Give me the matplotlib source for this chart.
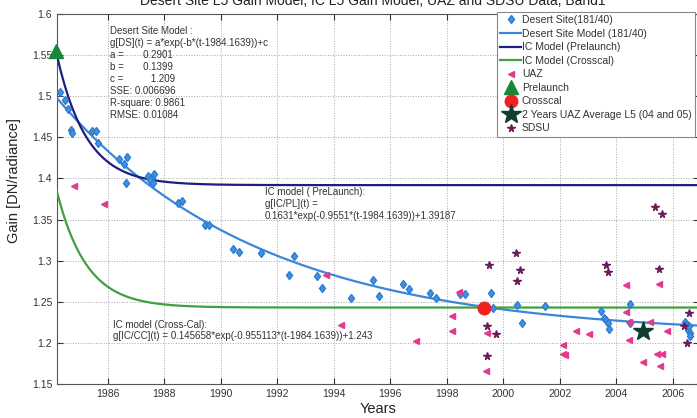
import numpy as np
import matplotlib
matplotlib.use('Agg')
import matplotlib.pyplot as plt

plt.rcParams['font.family'] = ['Liberation Sans', 'DejaVu Sans']

###############################################################################
# data:

t0 = 1984.1639

# model parameters printed on the chart: g(t) = a*exp(-b*(t-t0))+c
ds_model = [0.2901, 0.1399, 1.209]
pl_model = [0.1631, 0.9551, 1.39187]
cc_model = [0.145658, 0.955113, 1.243]

desert_t = [1984.31, 1984.48, 1984.58, 1984.70, 1984.72, 1985.45, 1985.57, 1985.64,
            1986.40, 1986.57, 1986.69, 1986.63, 1987.43, 1987.55, 1987.63, 1987.49,
            1987.61, 1988.49, 1988.61, 1989.44, 1989.59, 1990.44, 1990.65, 1991.42,
            1992.60, 1992.42, 1993.41, 1993.59, 1994.60, 1995.40, 1995.60, 1996.45,
            1996.65, 1997.42, 1997.62, 1998.46, 1998.64, 1999.57, 1999.65, 2000.50,
            2000.68, 2001.48, 2003.46, 2003.58, 2003.65, 2003.70, 2003.74, 2004.49,
            2004.50, 2006.45, 2006.50, 2006.55, 2006.60, 2006.62, 2006.58]
desert_g = [1.505, 1.495, 1.485, 1.459, 1.455, 1.458, 1.458, 1.443,
            1.424, 1.418, 1.426, 1.395, 1.403, 1.401, 1.406, 1.398,
            1.394, 1.370, 1.372, 1.343, 1.343, 1.314, 1.310, 1.309,
            1.306, 1.282, 1.281, 1.267, 1.255, 1.276, 1.257, 1.272,
            1.265, 1.261, 1.255, 1.260, 1.260, 1.261, 1.242, 1.246,
            1.224, 1.245, 1.239, 1.230, 1.228, 1.224, 1.217, 1.247,
            1.224, 1.226, 1.222, 1.216, 1.212, 1.208, 1.220]

uaz_t = [1984.81, 1985.86, 1993.72, 1994.25, 1996.90, 1998.17, 1998.20, 1998.44,
         1999.42, 1999.39, 2002.10, 2002.13, 2002.17, 2002.58, 2003.02, 2004.35,
         2004.35, 2004.46, 2004.46, 2004.94, 2005.19, 2005.50, 2005.46, 2005.62,
         2005.54, 2005.80]
uaz_g = [1.391, 1.369, 1.282, 1.222, 1.202, 1.233, 1.215, 1.262,
         1.212, 1.166, 1.198, 1.187, 1.185, 1.214, 1.211, 1.270,
         1.237, 1.225, 1.204, 1.177, 1.225, 1.272, 1.187, 1.186,
         1.172, 1.215]

sdsu_t = [1999.51, 1999.42, 1999.73, 1999.42, 2000.46, 2000.58, 2000.50, 2003.65,
          2003.70, 2005.38, 2005.62, 2005.50, 2006.59, 2006.39, 2006.50]
sdsu_g = [1.295, 1.221, 1.211, 1.184, 1.309, 1.289, 1.275, 1.295,
          1.286, 1.365, 1.357, 1.290, 1.236, 1.221, 1.200]

prelaunch = [t0, 1.555]
crosscal = [1999.33, 1.243]
uaz_avg = [2004.96, 1.215]

x_ticks = [1986, 1988, 1990, 1992, 1994, 1996, 1998, 2000, 2002, 2004, 2006]
y_ticks = [1.15, 1.2, 1.25, 1.3, 1.35, 1.4, 1.45, 1.5, 1.55, 1.6]

###############################################################################
# plot:

def model(t, p):
    return p[0]*np.exp(-p[1]*(t - t0)) + p[2]

tt = np.linspace(t0, 2007.5, 600)

fig = plt.figure(figsize=(6.97, 4.18), dpi=100)
ax = fig.add_axes([57/697, 1-384/418, 642/697, 370/418])

ax.plot(desert_t, desert_g, ls='none', marker='d', ms=4.5, color='#3f93e4',
        mec='#2f7bd0', label='Desert Site(181/40)', zorder=4)
ax.plot(tt, model(tt, ds_model), lw=1.6, color='#3a86d8',
        label='Desert Site Model (181/40)', zorder=3)
ax.plot(tt, model(tt, pl_model), lw=1.6, color='#1e1e80',
        label='IC Model (Prelaunch)', zorder=3)
ax.plot(tt, model(tt, cc_model), lw=1.6, color='#3fa03f',
        label='IC Model (Crosscal)', zorder=3)
ax.plot(uaz_t, uaz_g, ls='none', marker='<', ms=4.5, color='#e33a8e',
        label='UAZ', zorder=5)
ax.plot(*prelaunch, ls='none', marker='^', ms=10, color='#17873a',
        label='Prelaunch', zorder=6, clip_on=False)
ax.plot(*crosscal, ls='none', marker='o', ms=9, color='#f02020',
        label='Crosscal', zorder=6)
ax.plot(*uaz_avg, ls='none', marker='*', ms=15, color='#0f3d2f',
        label='2 Years UAZ Average L5 (04 and 05)', zorder=6)
ax.plot(sdsu_t, sdsu_g, ls='none', marker='*', ms=5.5, color='#6b1a5c',
        label='SDSU', zorder=5)

ax.set_xlim(1984.2, 2006.93)
ax.set_ylim(1.15, 1.6)
ax.set_xticks(x_ticks)
ax.set_yticks(y_ticks)
ax.set_yticklabels(['%g' % v for v in y_ticks])
ax.tick_params(direction='in', length=4, labelsize=7.5, colors='#333333',
               top=True, right=True)
ax.grid(True, ls=':', lw=0.7, color='#a8a8a8')
for sp in ax.spines.values():
    sp.set_color('#555555')
    sp.set_linewidth(0.8)

ax.set_xlabel('Years', fontsize=10.5, color='#222222', labelpad=2)
ax.set_ylabel('Gain [DN/radiance]', fontsize=10.5, color='#222222')
ax.yaxis.set_label_coords(-0.056, 0.55)

# model texts:
txt_kw = dict(fontsize=7, color='#333333', va='top', ha='left', linespacing=1.25)
ax.text(1986.08, 1.586,
        'Desert Site Model :\n'
        'g[DS](t) = a*exp(-b*(t-1984.1639))+c\n'
        'a =       0.2901\n'
        'b =       0.1399\n'
        'c =          1.209\n'
        'SSE: 0.006696\n'
        'R-square: 0.9861\n'
        'RMSE: 0.01084', **txt_kw)
ax.text(1991.56, 1.3895,
        'IC model ( PreLaunch):\n'
        'g[IC/PL](t) =\n'
        '0.1631*exp(-0.9551*(t-1984.1639))+1.39187', **txt_kw)
ax.text(1986.18, 1.2275,
        'IC model (Cross-Cal):\n'
        'g[IC/CC](t) = 0.145658*exp(-0.955113*(t-1984.1639))+1.243',
        **dict(txt_kw, linespacing=1.1))

# title, cut by the top of the picture as in the original:
fig.text(373/697, 1-5/418,
         'Desert Site L5 Gain Model, IC L5 Gain Model, UAZ and SDSU Data, Band1',
         ha='center', va='baseline', fontsize=10, color='#222222')

leg = ax.legend(loc='upper left', bbox_to_anchor=(497/697, 1-12/418),
                bbox_transform=fig.transFigure, fontsize=7.5, frameon=True,
                fancybox=False, edgecolor='#888888', framealpha=1,
                borderaxespad=0, borderpad=0.3, labelspacing=0.34,
                handlelength=2.0, handletextpad=0.1, numpoints=1)
leg.get_frame().set_linewidth(0.8)
for t in leg.get_texts():
    t.set_color('#333333')

plt.savefig('out.png', dpi=100)
plt.close('all')
